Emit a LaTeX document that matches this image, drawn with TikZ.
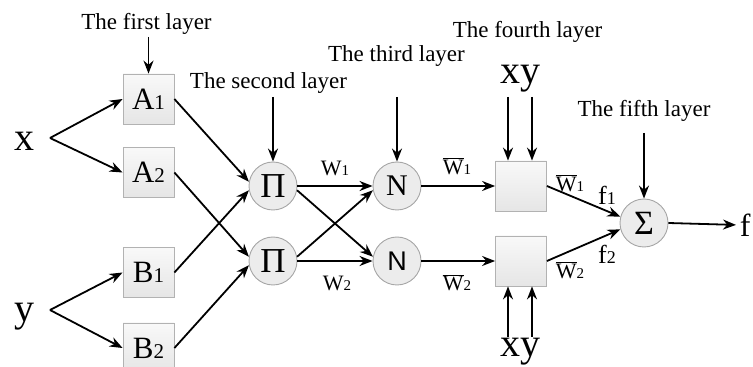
\documentclass[tikz,border=0pt]{standalone}
\usepackage{fontspec}
\setmainfont{Liberation Serif}
\setsansfont{Liberation Sans}
\usetikzlibrary{arrows.meta}

\newcommand{\capsize}{\fontsize{23}{27}\selectfont}
\newcommand{\bigsize}{\fontsize{40}{44}\selectfont}
\newcommand{\smallnum}[2]{{\fontsize{#1}{#1}\selectfont #2}}
\newcommand{\wbar}{$\overline{\hbox{W}}$}

\tikzset{
  layerbox/.style={draw=gray!60, top color=gray!5, bottom color=gray!20, line width=0.8pt, minimum width=51pt, minimum height=50pt, inner sep=0pt, font=\fontsize{31}{34}\selectfont},
  opnode/.style={circle, draw=gray!70, fill=gray!15, line width=0.9pt, minimum size=48pt, inner sep=0pt},
  caption/.style={font=\capsize, inner sep=0pt},
  wlabel/.style={font=\fontsize{22}{25}\selectfont, inner sep=0pt},
  flabel/.style={font=\fontsize{26}{29}\selectfont, inner sep=0pt},
}

\begin{document}
\begin{tikzpicture}[x=20pt,y=20pt,>={Stealth[length=13pt,width=10pt]},line width=1.8pt]
\useasboundingbox (0,0) rectangle (37.65,18.35);

% Draw inputs
\node[font=\bigsize, inner sep=0pt] (x) at (1.25,11.275) {x};
\node[font=\bigsize, inner sep=0pt] (y) at (1.25,2.5) {y};
\coordinate (xfork) at (2.5,11.45);
\coordinate (yfork) at (2.5,2.85);

% Draw first layer
\node[layerbox] (A1) at (7.425,13.4) {A\smallnum{21}{1}};
\node[layerbox] (A2) at (7.425,9.725) {A\smallnum{21}{2}};
\node[layerbox] (B1) at (7.425,4.725) {B\smallnum{21}{1}};
\node[layerbox] (B2) at (7.425,0.95) {B\smallnum{21}{2}};

% Draw second and third layer
\node[opnode, font=\fontsize{35}{38}\selectfont] (P1) at (13.65,9.05) {Π};
\node[opnode, font=\fontsize{35}{38}\selectfont] (P2) at (13.65,5.3) {Π};
\node[opnode, font=\fontsize{30}{33}\selectfont] (N1) at (19.85,9.05) {N};
\node[opnode, font=\fontsize{27}{30}\selectfont\sffamily] (N2) at (19.85,5.3) {N};

% Draw fourth and fifth layer
\node[layerbox] (F1) at (26.05,9.05) {};
\node[layerbox] (F2) at (26.05,5.3) {};
\node[opnode, font=\fontsize{34}{37}\selectfont] (S) at (32.2,7.2) {Σ};
\node[font=\fontsize{32}{35}\selectfont, anchor=west, inner sep=0pt] (f) at (36.95,7.1) {f};

% Layer captions
\node[caption] (L1) at (7.325,17.15) {The first layer};
\node[caption] (L2) at (13.425,14.175) {The second layer};
\node[caption] (L3) at (19.825,15.525) {The third layer};
\node[caption] (L4) at (26.375,16.775) {The fourth layer};
\node[caption] (L5) at (32.2,12.8) {The fifth layer};
\node[font=\bigsize, inner sep=0pt] (xytop) at (26.0,14.4) {xy};
\node[font=\bigsize, inner sep=0pt] (xybot) at (26.0,0.775) {xy};

\coordinate (in1) at (7.425,16.5);
\coordinate (in2) at (13.65,13.5);
\coordinate (in3) at (19.85,13.5);
\coordinate (in5) at (32.2,11.7);
\coordinate (xt) at (25.4,13.5);
\coordinate (yt) at (26.6,13.5);
\coordinate (xb) at (25.4,1.5);
\coordinate (yb) at (26.6,1.5);

% Draw arrows from captions
\draw[->] (in1) -- (A1.north);
\draw[->] (in2) -- (P1.north);
\draw[->] (in3) -- (N1.north);
\draw[->] (in5) -- (S.north);
\draw[->] (xt) -- (xt |- F1.north);
\draw[->] (yt) -- (yt |- F1.north);
\draw[->] (xb) -- (xb |- F2.south);
\draw[->] (yb) -- (yb |- F2.south);

% Draw mappings
\draw[->] (xfork) -- (A1.west);
\draw[->] (xfork) -- (A2.west);
\draw[->] (yfork) -- (B1.west);
\draw[->] (yfork) -- (B2.west);

\draw[->] (A1.east) -- (P1.170);
\draw[->] (B1.east) -- (P1.190);
\draw[->] (A2.east) -- (P2.170);
\draw[->] (B2.east) -- (P2.190);

\draw[->] (P1.east) -- (N1.west);
\draw[->] (P1.-10) -- (N2.170);
\draw[->] (P2.10) -- (N1.190);
\draw[->] (P2.east) -- (N2.west);

\draw[->] (N1.east) -- (F1.west);
\draw[->] (N2.east) -- (F2.west);
\draw[->] (F1.east) -- (S.165);
\draw[->] (F2.east) -- (S.195);
\draw[->, shorten >=3pt] (S.east) -- (f.west);

% Weight labels
\node[wlabel] (w1) at (16.75,9.925) {W\smallnum{15}{1}};
\node[wlabel] (w2) at (16.85,4.175) {W\smallnum{15}{2}};
\node[wlabel] (nw1) at (22.85,10.05) {\wbar\smallnum{15}{1}};
\node[wlabel] (nw2) at (22.85,4.225) {\wbar\smallnum{15}{2}};
\node[wlabel] (ow1) at (28.5,9.2) {\wbar\smallnum{15}{1}};
\node[wlabel] (ow2) at (28.5,4.85) {\wbar\smallnum{15}{2}};
\node[flabel] (f1) at (30.35,8.575) {f\smallnum{18}{1}};
\node[flabel] (f2) at (30.35,5.65) {f\smallnum{18}{2}};

\end{tikzpicture}
\end{document}
